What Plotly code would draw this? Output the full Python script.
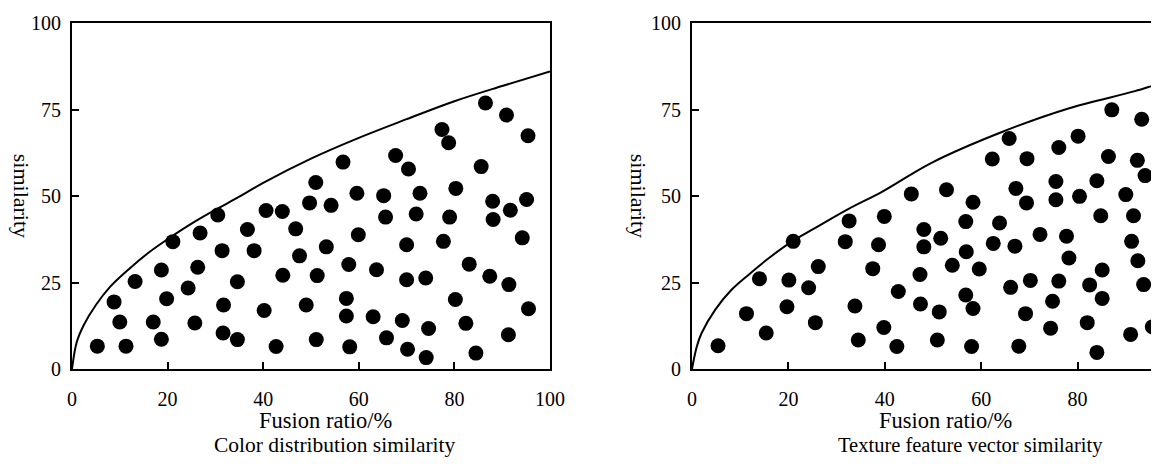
import plotly.graph_objects as go

# ---------------- data ----------------
color_x = [5.3, 11.3, 8.8, 10.0, 13.2, 17.0, 18.7, 18.7, 19.8, 21.1, 24.3, 25.7, 26.3, 26.8,
           30.5, 31.4, 31.7, 31.6, 34.6, 34.6, 36.7, 38.1, 40.2, 40.6, 42.7, 44.0, 44.1, 46.8,
           47.6, 49.0, 49.7, 51.0, 51.3, 51.1, 53.2, 54.2, 56.7, 57.4, 57.4, 57.9, 58.1, 59.6,
           59.9, 63.0, 63.7, 65.2, 65.6, 65.8, 67.7, 69.1, 70.0, 70.0, 70.2, 70.4, 72.0, 72.8,
           74.0, 74.6, 74.1, 77.4, 77.7, 78.8, 79.0, 80.3, 80.2, 82.4, 83.1, 84.5, 85.6, 86.5,
           87.4, 88.0, 88.1, 90.9, 91.3, 91.4, 91.7, 94.2, 95.1, 95.4, 95.5]
color_y = [6.6, 6.6, 19.4, 13.6, 25.3, 13.6, 8.6, 28.6, 20.3, 36.8, 23.4, 13.3, 29.4, 39.3,
           44.5, 34.2, 18.5, 10.4, 25.2, 8.5, 40.3, 34.2, 16.9, 45.8, 6.5, 45.5, 27.1, 40.5,
           32.7, 18.5, 48.0, 53.9, 27.0, 8.5, 35.3, 47.3, 59.8, 20.4, 15.3, 30.2, 6.4, 50.8,
           38.8, 15.1, 28.7, 50.1, 43.9, 9.0, 61.7, 14.0, 35.9, 25.8, 5.7, 57.8, 44.8, 50.8,
           26.3, 11.7, 3.3, 69.2, 36.9, 65.4, 43.9, 52.2, 20.1, 13.2, 30.3, 4.6, 58.5, 76.9,
           26.8, 48.5, 43.2, 73.4, 9.9, 24.4, 45.9, 37.9, 49.0, 67.4, 17.4]

texture_x = [5.4, 11.3, 14.0, 15.4, 20.1, 19.7, 21.0, 24.2, 25.6, 26.2, 31.8, 32.6, 33.8, 34.5,
             37.5, 38.7, 39.9, 39.8, 42.5, 42.8, 45.5, 47.3, 47.4, 48.1, 48.1, 50.9, 51.3, 51.6,
             52.8, 54.0, 56.8, 56.9, 56.8, 58.3, 58.3, 58.0, 59.6, 62.3, 62.5, 63.8, 65.8, 66.1,
             67.2, 67.0, 67.8, 69.5, 69.4, 69.2, 70.2, 72.2, 74.4, 74.8, 75.5, 75.5, 76.1, 76.1,
             77.7, 78.2, 80.1, 80.4, 82.0, 82.5, 84.0, 84.0, 84.8, 85.1, 85.1, 86.4, 87.1, 90.0,
             91.0, 91.2, 91.6, 92.4, 92.5, 93.3, 93.7, 94.0, 95.5, 97.3, 97.3]
texture_y = [6.7, 16.0, 26.1, 10.4, 25.7, 18.0, 36.9, 23.5, 13.4, 29.6, 36.8, 42.8, 18.2, 8.4,
             29.0, 35.9, 44.1, 12.0, 6.5, 22.4, 50.6, 27.3, 18.8, 40.3, 35.3, 8.4, 16.5, 37.8,
             51.8, 30.0, 42.6, 33.9, 21.4, 48.2, 17.5, 6.5, 28.9, 60.7, 36.3, 42.2, 66.6, 23.6,
             52.2, 35.5, 6.6, 60.8, 48.0, 16.0, 25.6, 38.9, 11.8, 19.6, 54.2, 48.9, 64.0, 25.4,
             38.4, 32.1, 67.3, 49.9, 13.4, 24.3, 54.4, 4.8, 44.3, 28.6, 20.4, 61.4, 74.9, 50.4,
             10.0, 36.9, 44.3, 60.3, 31.3, 72.2, 24.4, 55.9, 12.2, 42.6, 29.5]

color_curve_x = [0, 1, 2.5, 5, 8, 12, 16, 20, 25, 30, 35, 40, 50, 60, 70, 80, 90, 100]
color_curve_y = [0, 7.8, 12.8, 18.5, 23.8, 29.0, 33.6, 37.5, 42.0, 46.0, 49.8, 53.8, 60.8, 66.8,
                 72.2, 77.4, 81.8, 86.0]

texture_curve_x = [0, 1, 2, 4.8, 8.2, 11.7, 15.9, 20.7, 25.5, 32.4, 39.4, 49.7, 64.3, 78.1, 91.9,
                   97.1, 100]
texture_curve_y = [0, 6.5, 10.4, 17.1, 22.9, 27.2, 32.0, 36.8, 40.7, 46.2, 51.2, 59.6, 68.5, 75.3,
                   80.3, 82.5, 83.4]

x_ticks = [0, 20, 40, 60, 80, 100]
y_ticks = [0, 25, 50, 75, 100]
x_title = "Fusion ratio/%"
y_title = "similarity"
captions = ["Color distribution similarity", "Texture feature vector similarity"]

# ---------------- figure ----------------
FONT = "Liberation Serif, Times New Roman, serif"
OFF = 8                      # page body margin in the browser
W, H = 1159 - OFF, 464 - OFF
T = 23 - OFF
PLOT_BOTTOM = 369.5          # screen y of the x axis
B = (OFF + H) - PLOT_BOTTOM
PLOT_H = H - T - B


def px(s):
    """screen x -> paper x"""
    return (s - OFF) / W


def py(s):
    """screen y -> paper y"""
    return (PLOT_BOTTOM - s) / PLOT_H


X0_R = 692.0                 # screen x of right y axis
UNIT_R = 4.82                # px per x unit on right panel
r_max = (OFF + W - X0_R) / UNIT_R

fig = go.Figure()

fig.add_trace(go.Scatter(x=color_curve_x, y=color_curve_y, mode="lines",
                         line=dict(color="black", width=2, shape="spline"),
                         xaxis="x", yaxis="y", hoverinfo="skip"))
fig.add_trace(go.Scatter(x=color_x, y=color_y, mode="markers",
                         marker=dict(size=15, color="black"), xaxis="x", yaxis="y"))
fig.add_trace(go.Scatter(x=texture_curve_x, y=texture_curve_y, mode="lines",
                         line=dict(color="black", width=2, shape="spline"),
                         xaxis="x2", yaxis="y2", hoverinfo="skip"))
fig.add_trace(go.Scatter(x=texture_x, y=texture_y, mode="markers",
                         marker=dict(size=15, color="black"), xaxis="x2", yaxis="y2"))

axis_common = dict(showgrid=False, zeroline=False, showline=True, linecolor="black",
                   linewidth=2, ticks="inside", ticklen=7, tickwidth=1.5, tickcolor="black",
                   automargin=False,
                   tickfont=dict(family=FONT, size=20, color="black"))

fig.update_layout(
    width=W, height=H,
    margin=dict(l=0, r=0, t=T, b=B, pad=0, autoexpand=False),
    paper_bgcolor="white", plot_bgcolor="white",
    showlegend=False,
    xaxis=dict(domain=[px(72), px(550)], range=[0, 100], tickvals=x_ticks, mirror=True,
               anchor="y", ticklabelstandoff=11, **axis_common),
    yaxis=dict(domain=[0, 1], range=[0, 100], tickvals=y_ticks, mirror=True,
               anchor="x", ticklabelstandoff=5, **axis_common),
    xaxis2=dict(domain=[px(X0_R), 1.0], range=[0, r_max], tickvals=x_ticks, mirror=True,
                anchor="y2", ticklabelstandoff=11, **axis_common),
    yaxis2=dict(domain=[0, 1], range=[0, 100], tickvals=y_ticks, mirror=False,
                anchor="x2", ticklabelstandoff=5, **axis_common),
)

ann = []
for cx, tx in [(21, 325.5), (638, 945)]:
    ann.append(dict(text=y_title, xref="paper", yref="paper", x=px(cx), y=py(196),
                    textangle=90, showarrow=False, xanchor="center", yanchor="middle",
                    font=dict(family=FONT, size=22, color="black")))
    ann.append(dict(text=x_title, xref="paper", yref="paper", x=px(tx), y=py(421),
                    showarrow=False, xanchor="center", yanchor="middle",
                    font=dict(family=FONT, size=22.5, color="black")))
for capx, cap, fs in zip([335, 970], captions, [21.5, 20.5]):
    ann.append(dict(text=cap, xref="paper", yref="paper", x=px(capx), y=py(446),
                    showarrow=False, xanchor="center", yanchor="middle",
                    font=dict(family=FONT, size=fs, color="black")))
fig.update_layout(annotations=ann)

fig.write_html("out.html")
